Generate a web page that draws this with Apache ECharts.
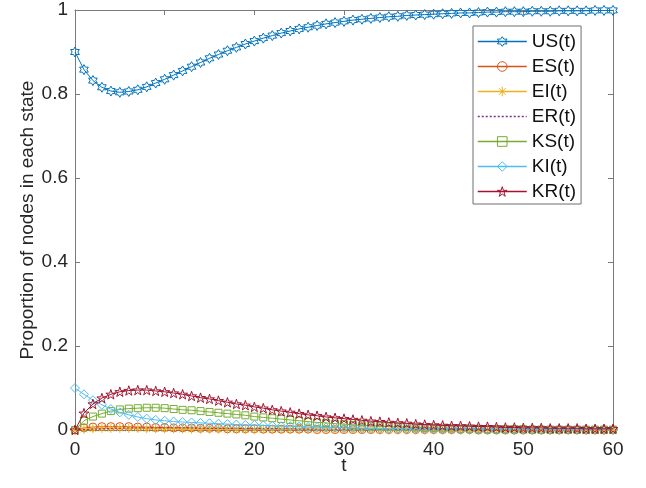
<!DOCTYPE html>
<html>
<head>
<meta charset="utf-8">
<script src="https://cdn.jsdelivr.net/npm/echarts@6/dist/echarts.min.js"></script>
<style>
html,body{margin:0;padding:0;background:#fff;}
#chart{width:646px;height:488px;}
</style>
</head>
<body>
<div id="chart"></div>
<script>
var tValues = [0,1,2,3,4,5,6,7,8,9,10,11,12,13,14,15,16,17,18,19,20,21,22,23,24,25,26,27,28,29,30,31,32,33,34,35,36,37,38,39,40,41,42,43,44,45,46,47,48,49,50,51,52,53,54,55,56,57,58,59,60];

var US = [0.900,0.858,0.832,0.816,0.807,0.804,0.806,0.810,0.817,0.826,
0.835,0.845,0.855,0.865,0.875,0.885,0.894,0.903,0.911,0.919,
0.926,0.933,0.939,0.945,0.950,0.955,0.959,0.963,0.967,0.970,
0.973,0.976,0.978,0.980,0.982,0.984,0.985,0.987,0.988,0.989,
0.990,0.991,0.992,0.993,0.993,0.994,0.995,0.995,0.996,0.996,
0.996,0.997,0.997,0.997,0.998,0.998,0.998,0.998,0.999,0.999,0.999];

var ES = [0,0.005,0.007,0.008,0.008,0.008,0.008,0.007,0.007,0.006,
0.006,0.005,0.005,0.005,0.004,0.004,0.004,0.003,0.003,0.003,
0.003,0.002,0.002,0.002,0.002,0.002,0.002,0.001,0.001,0.001,
0.001,0.001,0.001,0.001,0.001,0.001,0.001,0.001,0.001,0.001,
0.001,0.001,0.001,0.001,0.001,0,0,0,0,0,
0,0,0,0,0,0,0,0,0,0,0];

var EI = [0,0.002,0.003,0.004,0.004,0.004,0.004,0.004,0.003,0.003,
0.003,0.003,0.002,0.002,0.002,0.002,0.002,0.002,0.001,0.001,
0.001,0.001,0.001,0.001,0.001,0.001,0.001,0.001,0.001,0.001,
0.001,0.001,0.001,0.001,0,0,0,0,0,0,
0,0,0,0,0,0,0,0,0,0,
0,0,0,0,0,0,0,0,0,0,0];

var ER = [0,0.001,0.002,0.003,0.004,0.004,0.005,0.005,0.005,0.005,
0.005,0.005,0.005,0.005,0.004,0.004,0.004,0.004,0.004,0.003,
0.003,0.003,0.003,0.003,0.003,0.002,0.002,0.002,0.002,0.002,
0.002,0.002,0.002,0.001,0.001,0.001,0.001,0.001,0.001,0.001,
0.001,0.001,0.001,0.001,0.001,0.001,0.001,0.001,0.001,0.001,
0.001,0.001,0.001,0.001,0.001,0.001,0.001,0.001,0.001,0.001,0.001];

var KS = [0,0.022,0.032,0.039,0.045,0.049,0.051,0.052,0.053,0.053,
0.052,0.050,0.048,0.047,0.045,0.043,0.041,0.039,0.037,0.035,
0.032,0.030,0.028,0.026,0.024,0.022,0.020,0.018,0.017,0.015,
0.014,0.012,0.011,0.010,0.009,0.008,0.007,0.007,0.006,0.005,
0.005,0.004,0.004,0.003,0.003,0.003,0.002,0.002,0.002,0.002,
0.002,0.001,0.001,0.001,0.001,0.001,0.001,0.001,0.001,0.001,0.001];

var KI = [0.100,0.085,0.071,0.060,0.050,0.042,0.036,0.031,0.027,0.024,
0.022,0.020,0.019,0.018,0.017,0.016,0.015,0.014,0.013,0.012,
0.012,0.011,0.010,0.009,0.009,0.008,0.007,0.007,0.006,0.006,
0.005,0.005,0.004,0.004,0.004,0.003,0.003,0.003,0.003,0.002,
0.002,0.002,0.002,0.002,0.002,0.001,0.001,0.001,0.001,0.001,
0.001,0.001,0.001,0.001,0.001,0.001,0.001,0.001,0.001,0.001,0.001];

var KR = [0,0.040,0.062,0.076,0.085,0.091,0.094,0.095,0.095,0.093,
0.091,0.088,0.085,0.081,0.077,0.074,0.070,0.066,0.062,0.059,
0.055,0.052,0.048,0.045,0.042,0.039,0.036,0.034,0.031,0.029,
0.027,0.025,0.023,0.021,0.020,0.018,0.017,0.016,0.014,0.013,
0.012,0.011,0.010,0.010,0.009,0.008,0.008,0.007,0.006,0.006,
0.005,0.005,0.005,0.004,0.004,0.004,0.004,0.003,0.003,0.003,0.003];

var seriesNames = ['US(t)','ES(t)','EI(t)','ER(t)','KS(t)','KI(t)','KR(t)'];
var seriesValues = [US, ES, EI, ER, KS, KI, KR];
var xTicks = [0,10,20,30,40,50,60];
var yTicks = [0,0.2,0.4,0.6,0.8,1];

// marker shapes
function starPath(n, rIn) {
  var pts = [];
  for (var i = 0; i < 2 * n; i++) {
    var r = (i % 2 === 0) ? 10 : 10 * rIn;
    var a = (-90 + i * 180 / n) * Math.PI / 180;
    pts.push((r * Math.cos(a)).toFixed(3) + ' ' + (r * Math.sin(a)).toFixed(3));
  }
  return 'path://M' + pts.join(' L') + ' Z';
}
var hexagram = starPath(6, 0.577);
var pentagram = starPath(5, 0.382);
var asterisk = 'path://M0 -10 L0 10 M-10 0 L10 0 M-7 -7 L7 7 M-7 7 L7 -7';

var colors = ['#0072BD','#D95319','#EDB120','#7E2F8E','#77AC30','#4DBEEE','#A2142F'];
var symbols = [hexagram, 'circle', asterisk, 'circle', 'rect', 'diamond', pentagram];
var sizes = [10, 8, 9, 0, 7, 9, 10];
var noMarker = [false, false, false, true, false, false, false];
var transparent = 'rgba(255,255,255,0)';

function itemStyleFor(k) {
  return { color: transparent, borderColor: noMarker[k] ? transparent : colors[k], borderWidth: 1 };
}
function lineStyleFor(k) {
  return { color: colors[k], width: 1, type: k === 3 ? [2, 2] : 'solid' };
}

var series = seriesNames.map(function (name, k) {
  var vals = seriesValues[k];
  return {
    name: name,
    type: 'line',
    xAxisIndex: 0,
    yAxisIndex: 0,
    data: tValues.map(function (t, i) { return [t, vals[i]]; }),
    symbol: symbols[k],
    symbolSize: sizes[k],
    symbolKeepAspect: true,
    showSymbol: !noMarker[k],
    lineStyle: lineStyleFor(k),
    itemStyle: itemStyleFor(k),
    emphasis: { disabled: true },
    z: 2 + k
  };
});

var legendData = seriesNames.map(function (name, k) {
  var ls = lineStyleFor(k);
  ls.width = 1.5;
  return { name: name, itemStyle: itemStyleFor(k), lineStyle: ls };
});

var fontFam = 'Liberation Sans, Arial, Helvetica, sans-serif';
var axisColor = '#7a7a7a';

var chart = echarts.init(document.getElementById('chart'), null, { renderer: 'canvas' });
chart.setOption({
  animation: false,
  backgroundColor: '#ffffff',
  textStyle: { fontFamily: fontFam },
  grid: { left: 75, right: 33, top: 10, bottom: 58, show: false },
  legend: {
    orient: 'vertical',
    left: 473,
    top: 26,
    data: legendData,
    itemWidth: 49,
    itemHeight: 12,
    itemGap: 6,
    padding: [6, 5, 3, 4],
    borderColor: '#6e6e6e',
    borderWidth: 1,
    backgroundColor: '#ffffff',
    textStyle: { fontSize: 19, lineHeight: 19, color: '#111', fontFamily: fontFam },
    selectedMode: false
  },
  xAxis: [{
    type: 'value', position: 'bottom', min: 0, max: 60, interval: 10,
    name: 't', nameLocation: 'middle', nameGap: 26, nameMoveOverlap: false,
    nameTextStyle: { fontSize: 19, color: '#262626', fontFamily: fontFam },
    axisLine: { show: true, onZero: false, lineStyle: { color: axisColor, width: 1 } },
    axisTick: { show: true, inside: true, length: 5, lineStyle: { color: axisColor } },
    axisLabel: { fontSize: 19, color: '#262626', margin: 10, fontFamily: fontFam },
    splitLine: { show: false }
  }, {
    type: 'value', position: 'top', min: 0, max: 60, interval: 10,
    axisLine: { show: true, onZero: false, lineStyle: { color: axisColor, width: 1 } },
    axisTick: { show: true, inside: true, length: 5, lineStyle: { color: axisColor } },
    axisLabel: { show: false },
    splitLine: { show: false }
  }],
  yAxis: [{
    type: 'value', position: 'left', min: 0, max: 1, interval: 0.2,
    name: 'Proportion of nodes in each state', nameLocation: 'middle', nameGap: 38,
    nameMoveOverlap: false,
    nameTextStyle: { fontSize: 19, color: '#262626', fontFamily: fontFam },
    axisLine: { show: true, onZero: false, lineStyle: { color: axisColor, width: 1 } },
    axisTick: { show: true, inside: true, length: 5, lineStyle: { color: axisColor } },
    axisLabel: { fontSize: 19, color: '#262626', margin: 7, fontFamily: fontFam,
      formatter: function (v) { return String(Math.round(v * 10) / 10); } },
    splitLine: { show: false }
  }, {
    type: 'value', position: 'right', min: 0, max: 1, interval: 0.2,
    axisLine: { show: true, onZero: false, lineStyle: { color: axisColor, width: 1 } },
    axisTick: { show: true, inside: true, length: 5, lineStyle: { color: axisColor } },
    axisLabel: { show: false },
    splitLine: { show: false }
  }],
  series: series
});
</script>
</body>
</html>
